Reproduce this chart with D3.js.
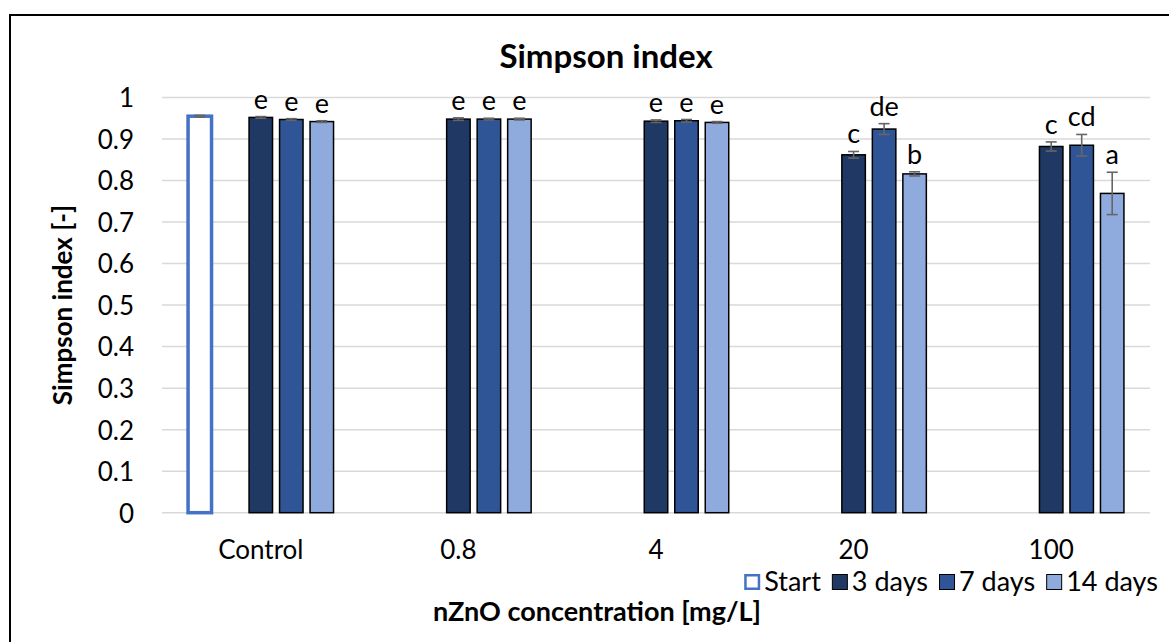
<!DOCTYPE html>
<html>
<head>
<meta charset="utf-8">
<script src="https://cdn.jsdelivr.net/npm/d3@7"></script>
<style>
  body { margin: 0; background: #fff; }
  svg text { font-family: Lato, "Noto Sans", sans-serif; fill: #000; }
</style>
</head>
<body>
<svg id="chart" width="1169" height="642"></svg>
<script>
// Simpson diversity index per nZnO concentration and sampling day
const categories = ["Control", "0.8", "4", "20", "100"];
const yTicks = [0, 0.1, 0.2, 0.3, 0.4, 0.5, 0.6, 0.7, 0.8, 0.9, 1];
const yTickLabels = ["0", "0.1", "0.2", "0.3", "0.4", "0.5", "0.6", "0.7", "0.8", "0.9", "1"];

const startValues = [0.955, null, null, null, null];
const startErrors = [0.002, null, null, null, null];

const days3Values = [0.952, 0.948, 0.943, 0.862, 0.882];
const days3Errors = [0.002, 0.003, 0.003, 0.008, 0.011];
const days3Letters = ["e", "e", "e", "c", "c"];

const days7Values = [0.947, 0.948, 0.944, 0.924, 0.885];
const days7Errors = [0.002, 0.002, 0.003, 0.013, 0.026];
const days7Letters = ["e", "e", "e", "de", "cd"];

const days14Values = [0.942, 0.948, 0.940, 0.816, 0.769];
const days14Errors = [0.002, 0.002, 0.002, 0.005, 0.051];
const days14Letters = ["e", "e", "e", "b", "a"];

const series = [
  { name: "Start",   values: startValues,  errors: startErrors,  letters: null,          fill: "#ffffff", stroke: "#4472C4", sw: 3.5 },
  { name: "3 days",  values: days3Values,  errors: days3Errors,  letters: days3Letters,  fill: "#203864", stroke: "#000000", sw: 1.5 },
  { name: "7 days",  values: days7Values,  errors: days7Errors,  letters: days7Letters,  fill: "#2F5597", stroke: "#000000", sw: 1.5 },
  { name: "14 days", values: days14Values, errors: days14Errors, letters: days14Letters, fill: "#8FAADC", stroke: "#000000", sw: 1.5 }
];

const svg = d3.select("#chart");

// outer chart border (runs off the right and bottom of the page)
svg.append("rect")
  .attr("x", 10).attr("y", 15).attr("width", 1200).attr("height", 700)
  .attr("fill", "none").attr("stroke", "#000").attr("stroke-width", 2);

const plot = { left: 162, right: 1150, top: 97.5, bottom: 512.7 };

const x = d3.scaleBand().domain(categories).range([plot.left, plot.right]);
const y = d3.scaleLinear().domain([0, 1]).range([plot.bottom, plot.top]);

// five slots per category: Start, an empty slot, then the three sampling days
const slotKeys = ["Start", "_gap", "3 days", "7 days", "14 days"];
const clusterWidth = 152.5;
const slot = d3.scaleBand().domain(slotKeys)
  .range([(x.bandwidth() - clusterWidth) / 2, (x.bandwidth() + clusterWidth) / 2])
  .paddingInner(0.23).paddingOuter(0.115);

// gridlines
svg.append("g").selectAll("line").data(yTicks).join("line")
  .attr("x1", plot.left).attr("x2", plot.right)
  .attr("y1", d => y(d)).attr("y2", d => y(d))
  .attr("stroke", "#d9d9d9").attr("stroke-width", 1.5);

// y axis tick labels
const yAxis = d3.axisLeft(y).tickValues(yTicks).tickSize(0).tickPadding(0)
  .tickFormat((d, i) => yTickLabels[i]);
const yg = svg.append("g").attr("transform", `translate(134,0)`).call(yAxis);
yg.select(".domain").remove();
yg.selectAll("text").attr("font-size", 26).attr("font-family", "Lato").attr("dy", "0.36em");

// x axis category labels
const xAxis = d3.axisBottom(x).tickSize(0).tickPadding(0);
const xg = svg.append("g").attr("transform", `translate(0,540)`).call(xAxis);
xg.select(".domain").remove();
xg.selectAll("text").attr("font-size", 26).attr("font-family", "Lato").attr("dy", "0.72em");

// bars
series.forEach(s => {
  const pts = categories.map((c, i) => ({ c, v: s.values[i], e: s.errors[i], l: s.letters ? s.letters[i] : null }))
    .filter(d => d.v != null);
  const g = svg.append("g");
  g.selectAll("rect").data(pts).join("rect")
    .attr("x", d => x(d.c) + slot(s.name))
    .attr("width", slot.bandwidth())
    .attr("y", d => y(d.v))
    .attr("height", d => y(0) - y(d.v))
    .attr("fill", s.fill).attr("stroke", s.stroke).attr("stroke-width", s.sw);

  // error bars
  const eg = g.selectAll("g.err").data(pts).join("g").attr("class", "err");
  const cx = d => x(d.c) + slot(s.name) + slot.bandwidth() / 2;
  eg.append("line")
    .attr("x1", cx).attr("x2", cx)
    .attr("y1", d => y(d.v - d.e)).attr("y2", d => y(d.v + d.e));
  eg.append("line")
    .attr("x1", d => cx(d) - 5.5).attr("x2", d => cx(d) + 5.5)
    .attr("y1", d => y(d.v + d.e)).attr("y2", d => y(d.v + d.e));
  eg.append("line")
    .attr("x1", d => cx(d) - 5.5).attr("x2", d => cx(d) + 5.5)
    .attr("y1", d => y(d.v - d.e)).attr("y2", d => y(d.v - d.e));
  eg.selectAll("line").attr("stroke", "#666").attr("stroke-width", 1.6);

  // significance letters
  if (s.letters) {
    g.selectAll("text").data(pts).join("text")
      .attr("x", cx)
      .attr("y", d => y(d.v + d.e) - 8)
      .attr("text-anchor", "middle")
      .attr("font-size", 27)
      .text(d => d.l);
  }
});

// title
svg.append("text").attr("x", 606).attr("y", 68).attr("text-anchor", "middle")
  .attr("font-size", 33).attr("font-weight", "bold").text("Simpson index");

// axis titles
svg.append("text").attr("transform", "translate(72,305) rotate(-90)")
  .attr("text-anchor", "middle").attr("font-size", 26).attr("font-weight", "bold")
  .text("Simpson index [-]");
svg.append("text").attr("x", 597).attr("y", 621).attr("text-anchor", "middle")
  .attr("font-size", 27).attr("font-weight", "bold")
  .text("nZnO concentration [mg/L]");

// legend, right-aligned
const legend = svg.append("g");
let cursor = 0;
series.forEach(s => {
  const item = legend.append("g").attr("transform", `translate(${cursor},0)`);
  const inset = s.name === "Start" ? 1.25 : 0.5;
  item.append("rect")
    .attr("x", inset).attr("y", -17 + inset)
    .attr("width", 16 - 2 * inset).attr("height", 16 - 2 * inset)
    .attr("fill", s.fill).attr("stroke", s.stroke)
    .attr("stroke-width", s.name === "Start" ? 2.5 : 1);
  const t = item.append("text").attr("x", 20).attr("y", 0)
    .attr("font-size", 27).text(s.name);
  cursor += 20 + t.node().getComputedTextLength() + 11;
});
const lb = legend.node().getBBox();
legend.attr("transform", `translate(${1158 - (lb.x + lb.width)},591)`);
</script>
</body>
</html>
